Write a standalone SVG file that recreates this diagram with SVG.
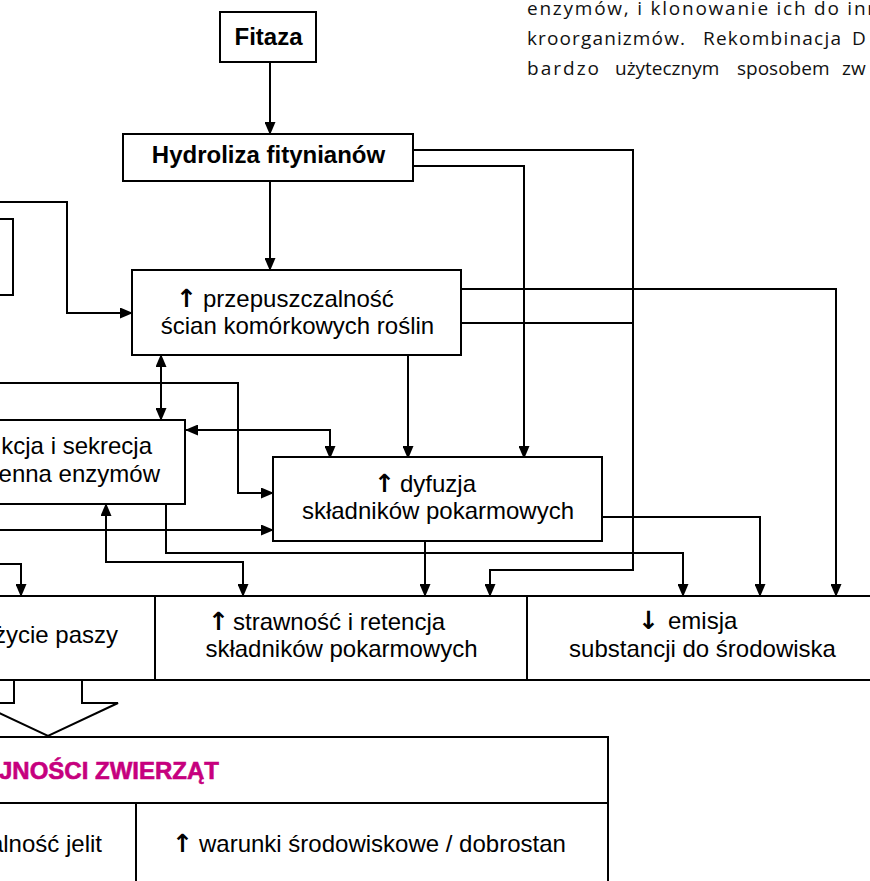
<svg xmlns="http://www.w3.org/2000/svg" width="870" height="881" viewBox="0 0 870 881">
<style>
.box{fill:#fff;stroke:#000;stroke-width:2}
.ln{fill:none;stroke:#000;stroke-width:2}
.t{font-family:"Liberation Sans",Arial,sans-serif;font-size:24px;fill:#000}
.b{font-weight:bold}
.ar{font-family:"DejaVu Sans",sans-serif;font-size:25px;font-weight:bold;fill:#000}
.mag{font-family:"Liberation Sans",Arial,sans-serif;font-size:24px;font-weight:bold;fill:#C6007E;stroke:#C6007E;stroke-width:0.6}
.para{font-family:"Open Sans","Noto Sans",sans-serif;font-size:19px;fill:#111}
</style>
<defs>
<marker id="ah" viewBox="0 0 13 11" refX="12" refY="5.5" markerWidth="13" markerHeight="11" markerUnits="userSpaceOnUse" orient="auto-start-reverse">
<path d="M0,0 L13,5.5 L0,11 z" fill="#000"/>
</marker>
</defs>
<rect width="870" height="881" fill="#fff"/>

<g id="paragraph" class="para">
<text x="527" y="15" textLength="352" lengthAdjust="spacing">enzymów, i klonowanie ich do inn</text>
<text x="527" y="45" textLength="158" lengthAdjust="spacing">kroorganizmów.</text>
<text x="703" y="45" textLength="138" lengthAdjust="spacing">Rekombinacja</text>
<text x="852" y="45">D</text>
<text x="527" y="75" textLength="72" lengthAdjust="spacing">bardzo</text>
<text x="615" y="75">użytecznym</text>
<text x="737" y="75">sposobem</text>
<text x="842" y="75">zw</text>
</g>

<g id="connectors">
<path class="ln" d="M270,62 V134" marker-end="url(#ah)"/>
<path class="ln" d="M270,181 V270" marker-end="url(#ah)"/>
<path class="ln" d="M413,150 H633 V570 H490 V596" marker-end="url(#ah)"/>
<path class="ln" d="M413,166 H524 V458" marker-end="url(#ah)"/>
<path class="ln" d="M461,289 H836 V596" marker-end="url(#ah)"/>
<path class="ln" d="M461,323 H633"/>
<path class="ln" d="M-5,202 H67 V313 H132" marker-end="url(#ah)"/>
<path class="ln" d="M161,355 V420" marker-start="url(#ah)" marker-end="url(#ah)"/>
<path class="ln" d="M-5,383 H238 V493 H273" marker-end="url(#ah)"/>
<path class="ln" d="M186,430 H330 V458" marker-start="url(#ah)" marker-end="url(#ah)"/>
<path class="ln" d="M408,355 V458" marker-end="url(#ah)"/>
<path class="ln" d="M-5,530 H273" marker-end="url(#ah)"/>
<path class="ln" d="M166,504 V553 H683 V596" marker-end="url(#ah)"/>
<path class="ln" d="M106,504 V562 H243 V596" marker-start="url(#ah)" marker-end="url(#ah)"/>
<path class="ln" d="M425,541 V596" marker-end="url(#ah)"/>
<path class="ln" d="M602,517 H760 V596" marker-end="url(#ah)"/>
<path class="ln" d="M-5,564 H21 V596" marker-end="url(#ah)"/>
</g>

<g id="fitaza">
<rect class="box" x="220" y="12" width="96" height="50"/>
<text class="t b" x="268.5" y="45" text-anchor="middle">Fitaza</text>
</g>

<g id="hydroliza">
<rect class="box" x="123" y="134" width="290" height="47"/>
<text class="t b" x="268.5" y="163" text-anchor="middle">Hydroliza fitynianów</text>
</g>

<g id="left-box">
<rect class="box" x="-10" y="219" width="23" height="76"/>
</g>

<g id="przepuszczalnosc">
<rect class="box" x="132" y="270" width="329" height="85"/>
<text class="t" y="307"><tspan class="ar" x="176">↑</tspan><tspan x="203">przepuszczalność</tspan></text>
<text class="t" x="297.5" y="334" text-anchor="middle">ścian komórkowych roślin</text>
</g>

<g id="enzymy">
<rect class="box" x="-10" y="420" width="195" height="84"/>
<text class="t" x="152" y="454" text-anchor="end">kcja i sekrecja</text>
<text class="t" x="160" y="482" text-anchor="end">enna enzymów</text>
</g>

<g id="dyfuzja">
<rect class="box" x="273" y="457" width="329" height="84"/>
<text class="t" y="492"><tspan class="ar" x="374">↑</tspan><tspan x="400">dyfuzja</tspan></text>
<text class="t" x="438" y="519" text-anchor="middle">składników pokarmowych</text>
</g>

<g id="wykorzystanie">
<rect class="box" x="-10" y="596" width="165" height="84"/>
<text class="t" x="118" y="643" text-anchor="end">życie paszy</text>
</g>

<g id="strawnosc">
<rect class="box" x="155" y="596" width="372" height="84"/>
<text class="t" y="630"><tspan class="ar" x="208">↑</tspan><tspan x="233">strawność i retencja</tspan></text>
<text class="t" x="341.5" y="657" text-anchor="middle">składników pokarmowych</text>
</g>

<g id="emisja">
<rect class="box" x="527" y="596" width="353" height="84"/>
<text class="t" y="629"><tspan class="ar" x="638">↓</tspan><tspan x="668">emisja</tspan></text>
<text class="t" x="702.5" y="657" text-anchor="middle">substancji do środowiska</text>
</g>

<g id="block-arrow">
<polygon class="box" points="14,680 14,703 -22,703 48,736 118,703 82,703 82,680"/>
</g>

<g id="wydajnosc">
<rect class="box" x="-10" y="737" width="618" height="66"/>
<text class="mag" x="-1" y="779">JNOŚCI ZWIERZĄT</text>
</g>

<g id="jelita">
<rect class="box" x="-10" y="803" width="146" height="90"/>
<text class="t" x="102" y="852" text-anchor="end">alność jelit</text>
</g>

<g id="warunki">
<rect class="box" x="136" y="803" width="472" height="90"/>
<text class="t" y="852"><tspan class="ar" x="172">↑</tspan><tspan x="199">warunki środowiskowe / dobrostan</tspan></text>
</g>
</svg>
